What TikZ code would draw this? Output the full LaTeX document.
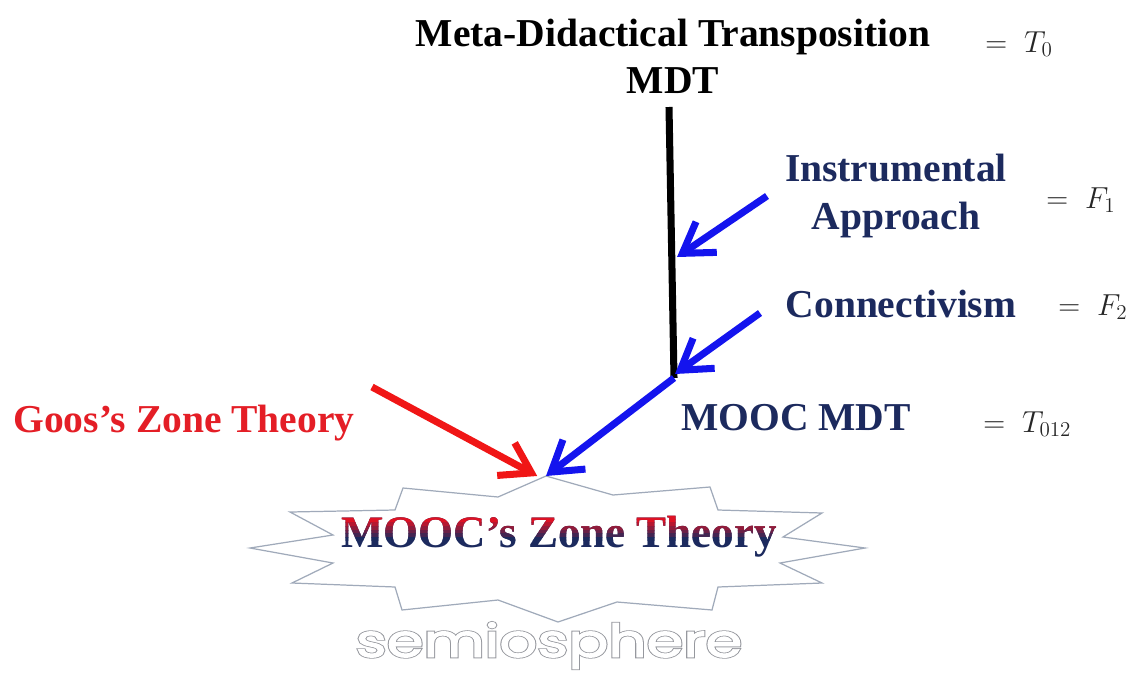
\documentclass[tikz,border=0pt]{standalone}
\usepackage{fontspec}
\setmainfont{Liberation Serif}
\newfontfamily\roundfill{Poppins}[FakeBold=2]
\newfontfamily\roundedge{Poppins}[FakeBold=5.5]
\usetikzlibrary{arrows.meta,positioning}
\definecolor{labelNavy}{RGB}{28,42,94}
\definecolor{goosRed}{RGB}{228,30,38}
\definecolor{zoneRed}{RGB}{222,18,36}
\definecolor{arrowBlue}{RGB}{20,20,238}
\definecolor{arrowRed}{RGB}{240,22,22}
\definecolor{burstGray}{RGB}{160,170,186}
\definecolor{eqGray}{RGB}{38,38,38}
\definecolor{semioGray}{RGB}{150,152,158}
\tikzset{
	heading/.style={
		font=\fontsize{22.5}{27.3}\selectfont\bfseries,
		inner sep=0pt,
		anchor=base,
	},
	theory/.style={heading, text=labelNavy, align=center},
	eqn/.style={
		font=\fontsize{17.5}{20}\selectfont,
		text=eqGray,
		inner sep=0pt,
		anchor=base west,
	},
	trunk/.style={line width=4pt, draw=black},
	feed/.style={
		line width=4pt,
		draw=arrowBlue,
		-{Straight Barb[length=0.58cm,width=0.74cm]},
	},
	burst/.style={draw=burstGray, line width=0.7pt, fill=white},
	zonetext/.style={font=\fontsize{25.6}{30}\selectfont\bfseries, inner sep=0pt, anchor=base},
	semiotext/.style={inner sep=0pt, anchor=base, xscale=1.3}
}

\begin{document}
\begin{tikzpicture}[x=0.02cm, y=-0.02cm]
	\useasboundingbox (0,0) rectangle (1139,673);

	% --- Top: MDT ---
	\node[heading] (mdtname) at (673,46) {Meta-Didactical Transposition};
	\node[heading] (mdt) at (673,93) {MDT};
	\node[eqn] (eqT0) at (985,52) {$=\;T_0$};

	% --- Theories feeding in ---
	\node[theory, anchor=center] (instr) at (896,196) {Instrumental\\Approach};
	\node[eqn] (eqF1) at (1046,208) {$=\;F_1$};
	\node[theory] (conn) at (901,317) {Connectivism};
	\node[eqn] (eqF2) at (1058,315) {$=\;F_2$};
	\node[theory] (moocmdt) at (796,430) {MOOC MDT};
	\node[eqn] (eqT012) at (983,432) {$=\;T_{012}$};
	\node[heading, text=goosRed] (goos) at (184,432) {Goos's Zone Theory};

	% --- Starburst (semiosphere) ---
	\coordinate (apex) at (546,476);
	\draw[burst] (apex) -- (613,495) -- (710,487) -- (718,510) -- (822,513)
		-- (783,537) -- (865,548) -- (780,563) -- (822,583) -- (718,587)
		-- (712,610) -- (617,602) -- (558,622) -- (498,600) -- (402,610)
		-- (395,587) -- (292,583) -- (333,563) -- (250,548) -- (333,535)
		-- (290,512) -- (395,510) -- (403,488) -- (498,497) -- cycle;

	% red-to-navy shaded title
	\node[zonetext, text=labelNavy] (zone) at (559,547) {MOOC's Zone Theory};
	\foreach \i in {0,...,7} {
		\pgfmathsetmacro\ya{512+\i*3.6}
		\pgfmathsetmacro\yb{\ya+3.7}
		\pgfmathsetmacro\p{max(0,min(100,100-(\i-2)*20))}
		\begin{scope}
			\clip (300,\ya) rectangle (820,\yb);
			\node[zonetext, text=zoneRed!\p!labelNavy] (zone\i) at (559,547) {MOOC's Zone Theory};
		\end{scope}
	}

	% outlined word
	\node[semiotext, font=\roundedge\fontsize{26}{30}\selectfont, text=semioGray] (semioedge) at (549,657) {semiosphere};
	\node[semiotext, font=\roundfill\fontsize{26}{30}\selectfont, text=white] (semio) at (549,657) {semiosphere};

	% --- Flows ---
	\coordinate (trunkTop) at (669,107);
	\coordinate (trunkEnd) at (674,378);
	\coordinate (hitA) at (677,257);
	\coordinate (hitB) at (675,374);
	\coordinate (fromA) at (767,196);
	\coordinate (fromB) at (760,313);
	\coordinate (fromGoos) at (372,387);

	\draw[trunk] (trunkTop) -- (trunkEnd);
	\draw[feed] (fromA) -- (hitA);
	\draw[feed] (fromB) -- (hitB);
	\draw[feed] (trunkEnd) -- (apex);
	\draw[feed, draw=arrowRed] (fromGoos) -- ([xshift=-5pt]apex);
\end{tikzpicture}
\end{document}
